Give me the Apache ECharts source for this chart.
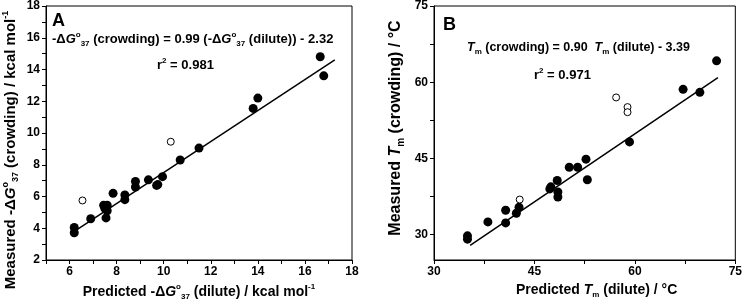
<!DOCTYPE html>
<html>
<head>
<meta charset="utf-8">
<title>Crowding vs dilute</title>
<script src="https://cdn.jsdelivr.net/npm/echarts@6/dist/echarts.min.js"></script>
<style>html,body{margin:0;padding:0;background:#fff}#main{width:745px;height:306px}</style>
</head>
<body>
<div id="main"></div>
<script>
// panel A: -dG°37, kcal/mol  -> [predicted (dilute), measured (crowding)]
var dgFilled = [[6.2,4.05],[6.2,3.72],[6.9,4.6],[7.45,5.45],[7.6,5.45],[7.6,5.1],[7.55,4.65],[7.5,5.25],
  [7.85,6.2],[8.35,6.1],[8.35,5.8],[8.8,6.95],[8.8,6.6],[9.35,7.05],[9.75,6.75],[9.7,6.7],[9.95,7.25],
  [10.7,8.3],[11.5,9.05],[13.8,11.55],[14.0,12.2],[16.65,14.8],[16.8,13.6]];
var dgOpen = [[6.55,5.75],[10.3,9.45]];
var dgFit = [[6.14,3.74],[17.27,14.61]];
var dgXLabels = [6,8,10,12,14,16,18];
var dgXTicks = [5,6,7,8,9,10,11,12,13,14,15,16,17,18];
var dgYLabels = [2,4,6,8,10,12,14,16,18];
var dgYTicks = [2,3,4,5,6,7,8,9,10,11,12,13,14,15,16,17,18];

// panel B: Tm, °C
var tmFilled = [[35.0,29.75],[35.0,29.1],[38.05,32.5],[40.7,34.8],[40.7,32.3],[42.3,34.2],[42.7,35.4],
  [47.3,39.0],[47.45,39.4],[48.4,40.65],[48.5,38.4],[48.5,37.4],[50.2,43.25],[51.45,43.25],[52.7,44.85],
  [52.9,40.8],[59.2,48.25],[67.2,58.6],[69.7,58.0],[72.2,64.2]];
var tmOpen = [[42.8,36.9],[57.2,57.0],[58.9,55.1],[58.9,54.1]];
var tmFit = [[35.4,27.9],[72.4,60.9]];
var tmLabels = [30,45,60,75];
var tmTicks = [30,37.5,45,52.5,60,67.5,75];

var F = '"Liberation Sans", Arial, sans-serif';
function rich(size) {
  return {
    b: {fontFamily:F, fontWeight:'bold', fontSize:size, color:'#000', lineHeight:size+4},
    i: {fontFamily:F, fontWeight:'bold', fontStyle:'italic', fontSize:size, color:'#000', lineHeight:size+4},
    sup: {fontFamily:F, fontWeight:'bold', fontSize:Math.round(size*0.6), color:'#000', lineHeight:Math.round(size*0.6), verticalAlign:'top'},
    sub: {fontFamily:F, fontWeight:'bold', fontSize:Math.round(size*0.6), color:'#000', lineHeight:Math.round(size*0.6), verticalAlign:'bottom'}
  };
}

var chart = echarts.init(document.getElementById('main'));

function axisCfg(gi, min, max, labels, ticks, name, gap, size, pad) {
  return {
    type:'value', gridIndex:gi, min:min, max:max,
    splitLine:{show:false},
    axisLine:{show:true, onZero:false, lineStyle:{color:'#000', width:1}},
    axisTick:{show:true, customValues:ticks, length:4, lineStyle:{color:'#000'}},
    axisLabel:{customValues:labels, fontFamily:F, fontWeight:'bold', fontSize:12, color:'#000', margin:6},
    name:name, nameLocation:'middle', nameGap:gap,
    nameTextStyle:{rich:rich(size), padding:pad}
  };
}

var scatterFilled = {type:'scatter', symbol:'circle', symbolSize:9, itemStyle:{color:'#000', opacity:1}, z:3};
var scatterOpen = {type:'scatter', symbol:'circle', symbolSize:7, itemStyle:{color:'#fff', borderColor:'#000', borderWidth:1, opacity:1}, z:4};
var fitLine = {type:'line', showSymbol:false, symbol:'none', lineStyle:{color:'#000', width:1.5}, z:2};

chart.setOption({
  animation:false,
  backgroundColor:'#fff',
  grid:[
    {left:44, top:5, width:308, height:255, show:true, borderColor:'#000', borderWidth:1},
    {left:434, top:5, width:306, height:255, show:true, borderColor:'#000', borderWidth:1}
  ],
  xAxis:[
    axisCfg(0, 5, 18, dgXLabels, dgXTicks,
      '{b|Predicted -Δ}{i|G}{sup|o}{sub|37}{b| (dilute) / kcal mol}{sup|-1}', 22, 14, [0,0,0,0]),
    axisCfg(1, 30, 75, tmLabels, tmTicks,
      '{b|Predicted }{i|T}{sub|m}{b| (dilute) / °C}', 17, 14, [0,0,0,24])
  ],
  yAxis:[
    Object.assign(axisCfg(0, 2, 18, dgYLabels, dgYTicks,
      '{b|Measured -Δ}{i|G}{sup|o}{sub|37}{b| (crowding) / kcal mol}{sup|-1}', 26, 15, [0,34,0,0]), {nameRotate:90}),
    Object.assign(axisCfg(1, 25, 75, tmLabels, tmTicks,
      '{b|Measured }{i|T}{sub|m}{b| (crowding) / °C}', 28, 16, [0,0,0,10]), {nameRotate:90})
  ],
  series:[
    Object.assign({xAxisIndex:0, yAxisIndex:0, data:dgFit}, fitLine),
    Object.assign({xAxisIndex:0, yAxisIndex:0, data:dgFilled}, scatterFilled),
    Object.assign({xAxisIndex:0, yAxisIndex:0, data:dgOpen}, scatterOpen),
    Object.assign({xAxisIndex:1, yAxisIndex:1, data:tmFit}, fitLine),
    Object.assign({xAxisIndex:1, yAxisIndex:1, data:tmFilled}, scatterFilled),
    Object.assign({xAxisIndex:1, yAxisIndex:1, data:tmOpen}, scatterOpen)
  ],
  graphic:[
    {type:'text', x:52, y:21, style:{text:'A', font:'bold 18px '+F, fill:'#000', verticalAlign:'middle'}},
    {type:'text', x:52, y:39, style:{text:'{b|-Δ}{i|G}{sup|o}{sub|37}{b| (crowding) = 0.99 (-Δ}{i|G}{sup|o}{sub|37}{b| (dilute)) - 2.32}',
      rich:rich(13), verticalAlign:'middle'}},
    {type:'text', x:157, y:65, style:{text:'{b|r}{sup|2}{b| = 0.981}', rich:rich(13), verticalAlign:'middle'}},
    {type:'text', x:443, y:25, style:{text:'B', font:'bold 18px '+F, fill:'#000', verticalAlign:'middle'}},
    {type:'text', x:467, y:48, style:{text:'{i|T}{sub|m}{b| (crowding) = 0.90  }{i|T}{sub|m}{b| (dilute) - 3.39}',
      rich:rich(12.5), verticalAlign:'middle'}},
    {type:'text', x:534, y:75, style:{text:'{b|r}{sup|2}{b| = 0.971}', rich:rich(13), verticalAlign:'middle'}}
  ]
});
</script>
</body>
</html>
